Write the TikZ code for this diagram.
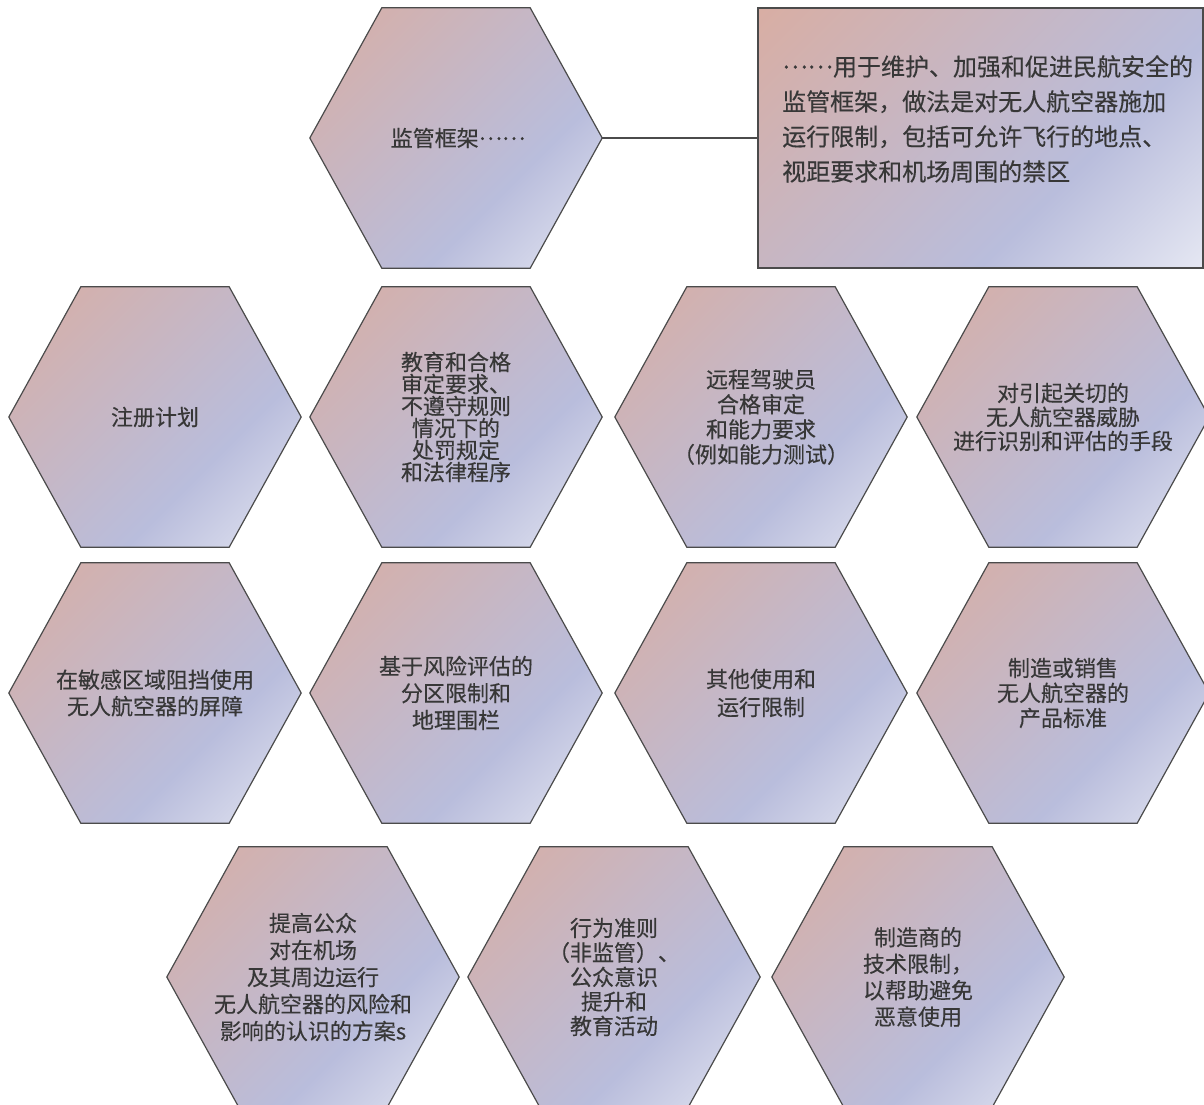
\documentclass[tikz,border=0pt]{standalone}
\usepackage{fontspec}
\newfontfamily\cjk[FakeBold=0.3]{Noto Sans CJK SC}
\usetikzlibrary{backgrounds}
\definecolor{gA}{RGB}{216,174,164}
\definecolor{gB}{RGB}{185,189,220}
\definecolor{gC}{RGB}{230,232,243}
\definecolor{txt}{RGB}{55,55,55}
\definecolor{edge}{RGB}{75,75,75}
\newcommand{\midell}{\raisebox{0.3em}{……}}
\pgfdeclarehorizontalshading{hexgrad}{100bp}{color(0bp)=(gA); color(15bp)=(gA); color(63bp)=(gB); color(86bp)=(gC); color(100bp)=(gC)}
\tikzset{
  hexn/.style={minimum width=292pt, minimum height=260pt, inner sep=0pt, align=center, text=txt, font=\cjk\fontsize{22}{26}\selectfont},
  hexfill/.style={shading=hexgrad, shading angle=-45, draw=edge, line width=1.2pt},
  rectn/.style={minimum width=445pt, minimum height=260pt, inner sep=0pt, shading=hexgrad, shading angle=-45, draw=edge, line width=1.2pt},
  recttext/.style={inner sep=0pt, align=left, text=txt, font=\cjk\fontsize{24}{35}\selectfont},
  conn/.style={draw=edge, line width=1.2pt},
}
\begin{document}
\begin{tikzpicture}[x=1pt,y=-1pt]
\useasboundingbox (0,0) rectangle (1204,1105);
% top
\node[hexn] (h1) at (456,138) {\hspace*{4pt}监管框架\midell};
\node[rectn] (r) at (980.5,138) {};
\node[recttext, anchor=north west] (rt) at (782,55) {\midell 用于维护、加强和促进民航安全的\\监管框架，做法是对无人航空器施加\\运行限制，包括可允许飞行的地点、\\视距要求和机场周围的禁区};
\draw[conn] (h1.east) -- (r.west);
% row 2
\node[hexn] (a1) at (155,417) {注册计划};
\node[hexn, font=\cjk\fontsize{22}{22}\selectfont] (a2) at (456,417) {教育和合格\\审定要求、\\不遵守规则\\情况下的\\处罚规定\\和法律程序};
\node[hexn, font=\cjk\fontsize{22}{25}\selectfont] (a3) at (761,417) {远程驾驶员\\合格审定\\和能力要求\\（例如能力测试）};
\node[hexn, font=\cjk\fontsize{22}{24}\selectfont] (a4) at (1063,417) {对引起关切的\\无人航空器威胁\\进行识别和评估的手段};
% row 3
\node[hexn, font=\cjk\fontsize{22}{26.5}\selectfont] (b1) at (155,693) {在敏感区域阻挡使用\\无人航空器的屏障};
\node[hexn, font=\cjk\fontsize{22}{27}\selectfont] (b2) at (456,693) {基于风险评估的\\分区限制和\\地理围栏};
\node[hexn, font=\cjk\fontsize{22}{28}\selectfont] (b3) at (761,693) {其他使用和\\运行限制};
\node[hexn, font=\cjk\fontsize{22}{25}\selectfont] (b4) at (1063,693) {制造或销售\\无人航空器的\\产品标准};
% row 4
\node[hexn, font=\cjk\fontsize{22}{27}\selectfont] (c1) at (313,977) {提高公众\\对在机场\\及其周边运行\\无人航空器的风险和\\影响的认识的方案s};
\node[hexn, font=\cjk\fontsize{22}{24.5}\selectfont] (c2) at (614,977) {行为准则\\（非监管）、\\公众意识\\提升和\\教育活动};
\node[hexn, font=\cjk\fontsize{22}{26.5}\selectfont] (c3) at (918,977) {制造商的\\技术限制，\\以帮助避免\\恶意使用};
\begin{scope}[on background layer]
  \fill[white] (0,0) rectangle (1204,1105);
  \foreach \n in {h1,a1,a2,a3,a4,b1,b2,b3,b4,c1,c2,c3}
    \path[hexfill] (\n.west) -- ([xshift=72pt]\n.north west) -- ([xshift=-72pt]\n.north east) -- (\n.east) -- ([xshift=-72pt]\n.south east) -- ([xshift=72pt]\n.south west) -- cycle;
\end{scope}
\end{tikzpicture}
\end{document}
